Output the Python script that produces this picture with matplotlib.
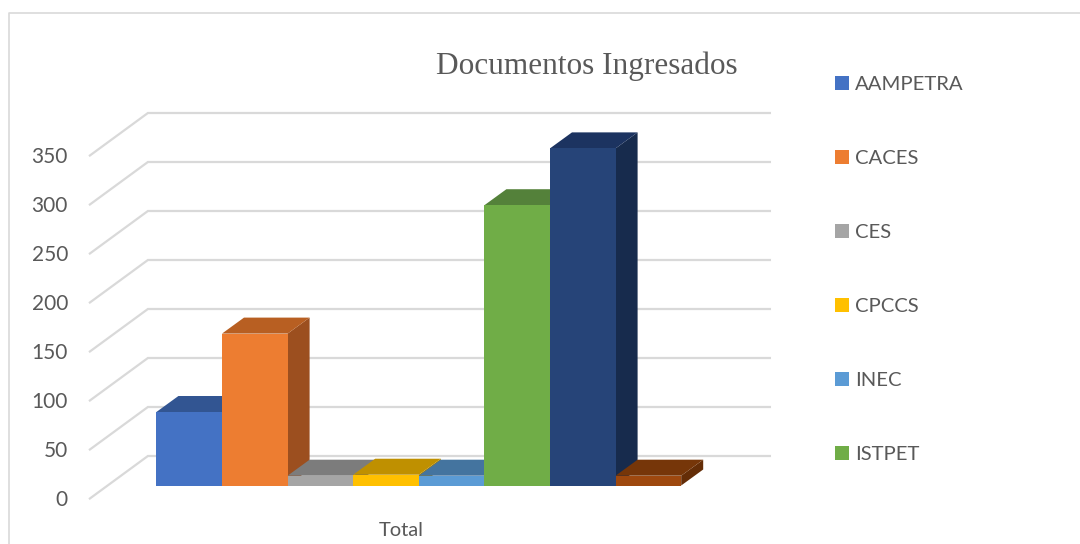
import matplotlib
matplotlib.use('Agg')
import matplotlib.pyplot as plt

names = ['AAMPETRA', 'CACES', 'CES', 'CPCCS', 'INEC', 'ISTPET']
values = [75, 155, 10, 11, 10, 286, 344, 10]
y_ticks = [0, 50, 100, 150, 200, 250, 300, 350]
front_colors = ['#4472C4', '#ED7D31', '#A5A5A5', '#FFC000', '#5B9BD5', '#70AD47', '#264478', '#9E480E']
top_colors = ['#325592', '#B85F22', '#7C7C7C', '#BF9000', '#44749F', '#54813A', '#1C3360', '#763609']
side_colors = ['#2A4A80', '#9C4F1F', '#686868', '#A67D00', '#3A658C', '#4A7032', '#172B4D', '#642D07']

# pixel sizes of the picture, used only to place the axes
bar_w = 65.6
px_per_val = 0.98
bar_x0 = 156.4
bar_y0 = 485.5
depth_x = 22 / bar_w
depth_y = 16 / px_per_val
grey = '#595959'

fig = plt.figure(figsize=(10.8, 5.44), dpi=100)
ax = fig.add_axes([0, 0, 1, 1])
ax.set_xlim(-bar_x0 / bar_w, (1080 - bar_x0) / bar_w)
ax.set_ylim(-(544 - bar_y0) / px_per_val, bar_y0 / px_per_val)
ax.axis('off')
plt.rcParams['font.family'] = 'Lato'

# outer frame
fig.add_artist(plt.Line2D([9 / 1080, 9 / 1080, 1], [0, 1 - 13 / 544, 1 - 13 / 544], color='#D9D9D9', lw=1.2))

# walls
wall_dy = 29.5 / px_per_val
front_dy = -13 / px_per_val
left_x = -66.5 / bar_w
wall_x = -8.5 / bar_w
right_x = 613.5 / bar_w
for t in y_ticks:
    ax.plot([left_x, wall_x, right_x], [t + front_dy, t + wall_dy, t + wall_dy],
            color='#D9D9D9', lw=1.6, solid_joinstyle='miter', zorder=1)
    ax.text(-88.5 / bar_w, t + front_dy - 1.6, str(t), ha='right', va='center', color=grey, fontsize=15)

# bars, left to right so later bars overlap earlier ones
for i, v in enumerate(values):
    ax.fill([i + 1, i + 1 + depth_x, i + 1 + depth_x, i + 1],
            [0, depth_y, v + depth_y, v], color=side_colors[i], lw=0, zorder=2 + i)
    ax.fill([i, i + depth_x, i + 1 + depth_x, i + 1],
            [v, v + depth_y, v + depth_y, v], color=top_colors[i], lw=0, zorder=2 + i)
    ax.fill([i, i + 1, i + 1, i], [0, 0, v, v], color=front_colors[i], lw=0, zorder=2 + i)

fig.text(586.5 / 1080, 1 - 66.5 / 544, 'Documentos Ingresados', ha='center', va='center',
         family='Liberation Serif', fontsize=22.5, color=grey)
fig.text(401.5 / 1080, 1 - 531 / 544, 'Total', ha='center', va='center', color=grey, fontsize=14.5)

# legend
for i, name in enumerate(names):
    y = 83 + i * 74
    fig.patches.append(plt.Rectangle((835 / 1080, 1 - (y + 7) / 544), 14 / 1080, 14 / 544,
                                     transform=fig.transFigure, color=front_colors[i], lw=0))
    fig.text(855 / 1080, 1 - (y + 1) / 544, name, ha='left', va='center', color=grey, fontsize=14.6)

fig.savefig('out.png', dpi=100)
